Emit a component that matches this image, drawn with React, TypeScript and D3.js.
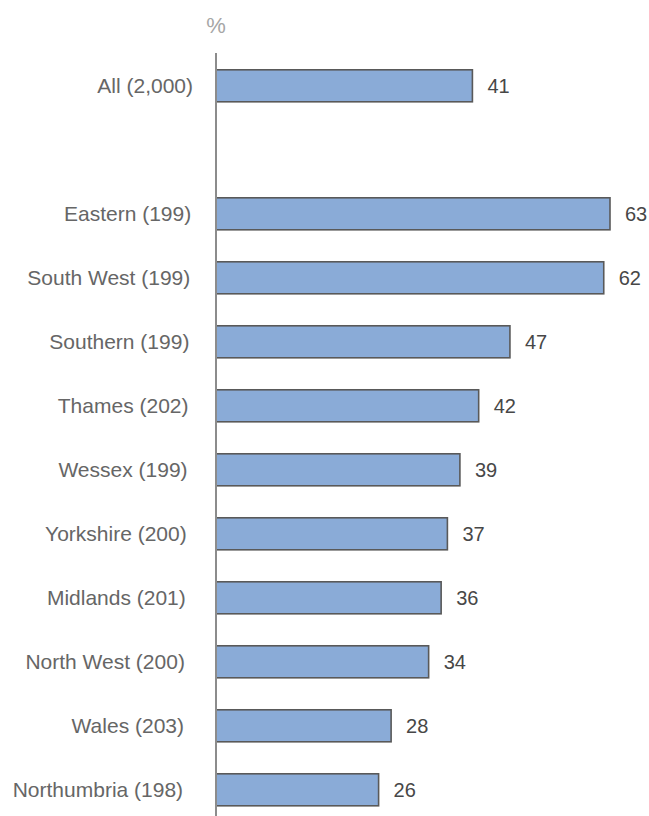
import React from "react";
import * as d3 from "d3";

const categories = [
  "All (2,000)",
  "",
  "Eastern (199)",
  "South West (199)",
  "Southern (199)",
  "Thames (202)",
  "Wessex (199)",
  "Yorkshire (200)",
  "Midlands (201)",
  "North West (200)",
  "Wales (203)",
  "Northumbria (198)",
];
const values: (number | null)[] = [41, null, 63, 62, 47, 42, 39, 37, 36, 34, 28, 26];
const unitLabel = "%";

const W = 649;
const H = 816;

export default function App() {
  const x = d3.scaleLinear().domain([0, 63]).range([216, 610]);
  const y = d3
    .scaleBand<string>()
    .domain(categories.map((c, i) => `${i}`))
    .range([53.8, 53.8 + 12 * 64])
    .paddingInner(0.5)
    .paddingOuter(0.25);
  const font = "'Liberation Sans', Arial, sans-serif";
  return (
    <svg
      width={W}
      height={H}
      style={{ position: "absolute", left: 0, top: 0, background: "#fff" }}
      fontFamily={font}
    >
      <text x={x(0)} y={33} textAnchor="middle" fontSize={22} fill="#a6a6a6">
        {unitLabel}
      </text>
      {categories.map((c, i) => {
        const v = values[i];
        const yb = y(`${i}`)!;
        const bh = y.bandwidth();
        const cy = yb + bh / 2;
        return (
          <g key={i}>
            {c && (
              <text x={193 - 0.9 * i} y={cy + 7} textAnchor="end" fontSize={21} fill="#666666">
                {c}
              </text>
            )}
            {v != null && (
              <>
                <rect
                  x={x(0)}
                  y={yb}
                  width={x(v) - x(0)}
                  height={bh}
                  fill="#8aabd7"
                  stroke="#595959"
                  strokeWidth={1.6}
                />
                <text x={x(v) + 15} y={cy + 7.5} fontSize={20} fill="#474747">
                  {v}
                </text>
              </>
            )}
          </g>
        );
      })}
      <line x1={x(0)} x2={x(0)} y1={53} y2={H} stroke="#8c8c8c" strokeWidth={2} />
    </svg>
  );
}
